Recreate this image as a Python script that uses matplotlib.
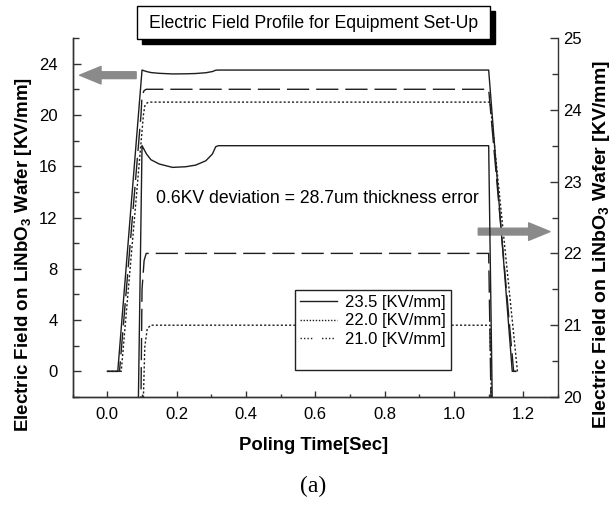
import matplotlib
matplotlib.use("Agg")
import matplotlib.pyplot as plt
from matplotlib.lines import Line2D
from matplotlib.patches import Rectangle
from matplotlib.ticker import MultipleLocator

plt.rcParams['font.family'] = ['Liberation Sans', 'DejaVu Sans']
plt.rcParams['mathtext.fontset'] = 'custom'
plt.rcParams['mathtext.rm'] = 'Liberation Sans'
plt.rcParams['mathtext.bf'] = 'Liberation Sans:bold'

# field profiles (time [s], field [KV/mm]); same data drawn on both axes
t_235 = [0.000, 0.030, 0.100, 0.1016, 0.113, 0.1256, 0.1496, 0.188, 0.226,
         0.255, 0.284, 0.303, 0.3126, 0.320, 1.100, 1.168, 1.178]
e_235 = [0.0, 0.0, 23.50, 23.486, 23.384, 23.305, 23.245, 23.198, 23.207,
         23.23, 23.29, 23.384, 23.486, 23.50, 23.50, 0.0, 0.0]

t_220 = [0.000, 0.035, 0.097, 0.100, 0.106, 0.112, 1.100, 1.172, 1.180]
e_220 = [0.0, 0.0, 20.0, 21.5, 21.9, 22.0, 22.0, 0.0, 0.0]

t_210 = [0.000, 0.040, 0.104, 0.108, 0.115, 0.125, 1.104, 1.183]
e_210 = [0.0, 0.0, 20.0, 20.7, 20.95, 21.0, 21.0, 0.0]

labels = ['23.5 [KV/mm]', '22.0 [KV/mm]', '21.0 [KV/mm]']
note = '0.6KV deviation = 28.7um thickness error'
title = 'Electric Field Profile for Equipment Set-Up'
ylab = r'Electric Field on LiNbO$_\mathbf{3}$ Wafer [KV/mm]'

W, H = 613, 505
fig = plt.figure(figsize=(W / 100, H / 100), dpi=100)
ax = fig.add_axes([72.7 / W, 1 - 397 / H, (558 - 72.7) / W, (397 - 38) / H])
ax2 = ax.twinx()

lc = '#1e1e1e'
styles = [dict(ls='-'), dict(ls=(0, (16, 5))), dict(ls=(0, (1.5, 1.5)))]
for a in (ax, ax2):
    a.plot(t_235, e_235, color=lc, lw=1.0, **styles[0])
    a.plot(t_220, e_220, color=lc, lw=1.0, **styles[1])
    a.plot(t_210, e_210, color=lc, lw=1.0, **styles[2])

ax.set_xlim(-0.1, 1.3)
ax.set_ylim(-2, 26)
ax2.set_ylim(20, 25)

ax.xaxis.set_major_locator(MultipleLocator(0.2))
ax.xaxis.set_minor_locator(MultipleLocator(0.1))
ax.yaxis.set_major_locator(MultipleLocator(4))
ax.yaxis.set_minor_locator(MultipleLocator(2))
ax2.yaxis.set_major_locator(MultipleLocator(1))
ax2.yaxis.set_minor_locator(MultipleLocator(0.5))
ax.xaxis.set_major_formatter(plt.FuncFormatter(lambda v, p: f'{v:.1f}'))

for a in (ax, ax2):
    a.spines['top'].set_visible(False)
    for s in a.spines.values():
        s.set_color('#333333')
        s.set_linewidth(1.0)
ax.spines['right'].set_visible(False)

ax.tick_params(axis='x', which='major', direction='in', length=4, width=1,
               color='#333333', labelsize=12, pad=7, top=False)
ax.tick_params(axis='x', which='minor', direction='in', length=2.5, width=1,
               color='#333333', top=False)
ax.tick_params(axis='y', which='major', direction='in', length=6, width=1,
               color='#333333', labelsize=12, pad=11, right=False)
ax.tick_params(axis='y', which='minor', direction='in', length=4, width=1,
               color='#333333', right=False)
ax2.tick_params(axis='y', which='major', direction='in', length=6, width=1,
                color='#333333', labelsize=12, pad=4)
ax2.tick_params(axis='y', which='minor', direction='in', length=4, width=1,
                color='#333333')

ax.text(0.141, 13.46, note, fontsize=12.7, va='center', ha='left')

arrow = dict(arrowstyle='simple,head_length=1.1,head_width=0.9,tail_width=0.35',
             color='#8a8a8a', mutation_scale=14, shrinkA=0, shrinkB=0)
ax.annotate('', xy=(-0.08, 23.1), xytext=(0.083, 23.1), arrowprops=arrow)
ax.annotate('', xy=(1.277, 10.9), xytext=(1.07, 10.9), arrowprops=arrow)

handles = [Line2D([], [], color=lc, lw=1.0, ls='-'),
           Line2D([], [], color=lc, lw=1.0, ls=(0, (1, 1.2))),
           Line2D([], [], color=lc, lw=1.0, ls=(0, (1, 1.5, 1, 1.5, 1, 1.5, 1, 7))),
           Line2D([], [], color='none')]
leg = ax2.legend(handles, labels + [' '], loc='upper left',
                 bbox_to_anchor=((295 - 72.7) / 485.3, (397 - 290) / 359),
                 fontsize=12, frameon=True, fancybox=False, framealpha=1,
                 edgecolor='#222222', handlelength=2.2, handletextpad=0.5,
                 labelspacing=0.2, borderpad=0.3, borderaxespad=0)
leg.get_frame().set_linewidth(1.0)

fig.text(24 / W, 1 - 255 / H, ylab, rotation=90, ha='center', va='center',
         fontsize=13.5, fontweight='bold')
fig.text(602 / W, 1 - 245 / H, ylab, rotation=90, ha='center', va='center',
         fontsize=14, fontweight='bold')
fig.text(314 / W, 1 - 446 / H, 'Poling Time[Sec]', ha='center', va='center',
         fontsize=13.3, fontweight='bold')
fig.text(313 / W, 1 - 486 / H, '(a)', ha='center', va='center',
         fontsize=17, family='Liberation Serif')

# title box with drop shadow
fig.patches.append(Rectangle((142 / W, 1 - 44 / H), 353 / W, 33 / H,
                             transform=fig.transFigure, facecolor='black',
                             edgecolor='black', zorder=3))
fig.patches.append(Rectangle((137 / W, 1 - 39 / H), 353 / W, 33 / H,
                             transform=fig.transFigure, facecolor='white',
                             edgecolor='black', lw=1.0, zorder=4))
fig.text(314 / W, 1 - 23 / H, title, ha='center', va='center',
         fontsize=12.7, zorder=5)

fig.savefig('out.png', dpi=100)
